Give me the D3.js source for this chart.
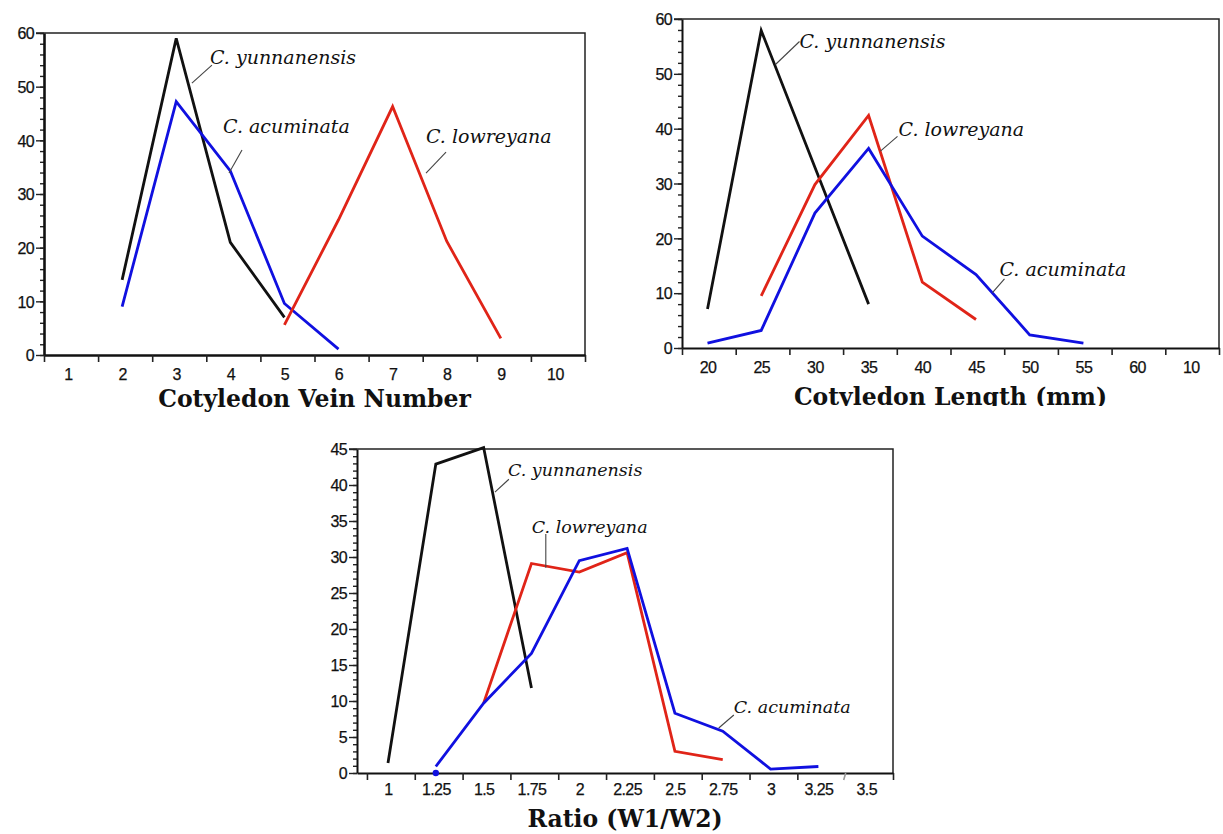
<!DOCTYPE html>
<html>
<head>
<meta charset="utf-8">
<script src="https://cdn.jsdelivr.net/npm/d3@7"></script>
<style>
  body { margin: 0; background: #fff; }
  svg { display: block; }
  .tick text { font-family: "Liberation Sans", Arial, sans-serif; font-size: 16px; letter-spacing: -0.6px; fill: #111; stroke: #111; stroke-width: 0.25px; }
  .title { font-family: "DejaVu Serif", serif; font-weight: bold; font-size: 23.5px; fill: #111; }
  .note { font-family: "DejaVu Serif", serif; font-style: italic; fill: #111; }
</style>
</head>
<body>
<svg id="chart" width="1223" height="834"></svg>
<script>
// ---- data: cotyledon vein number ----
var veinLabels = [1, 2, 3, 4, 5, 6, 7, 8, 9, 10];
var veinYunX = [2, 3, 4, 5];
var veinYunY = [14, 59, 21, 7];
var veinAcuX = [2, 3, 4, 5, 6];
var veinAcuY = [9, 47.2, 34.3, 9.6, 1.1];
var veinLowX = [5, 6, 7, 8, 9];
var veinLowY = [5.6, 25.2, 46.3, 21.2, 3.1];

// ---- data: cotyledon length (mm), categorical ----
var lengthLabels = ["20", "25", "30", "35", "40", "45", "50", "55", "60", "10"];
var lengthYunX = ["20", "25", "35"];
var lengthYunY = [7.1, 57.9, 8.0];
var lengthLowX = ["25", "30", "35", "40", "45"];
var lengthLowY = [9.5, 29.8, 42.4, 12.0, 5.2];
var lengthAcuX = ["20", "25", "30", "35", "40", "45", "50", "55"];
var lengthAcuY = [0.9, 3.2, 24.6, 36.4, 20.4, 13.4, 2.4, 0.9];

// ---- data: ratio W1/W2 ----
var ratioLabels = [1, 1.25, 1.5, 1.75, 2, 2.25, 2.5, 2.75, 3, 3.25, 3.5];
var ratioYunX = [1, 1.25, 1.5, 1.75];
var ratioYunY = [1.4, 42.9, 45.2, 11.8];
var ratioAcuX = [1.25, 1.5, 1.75, 2, 2.25, 2.5, 2.75, 3, 3.25];
var ratioAcuY = [0.9, 9.7, 16.6, 29.5, 31.2, 8.3, 5.8, 0.55, 0.9];
var ratioLowX = [1.5, 1.75, 2, 2.25, 2.5, 2.75];
var ratioLowY = [9.7, 29.1, 27.9, 30.6, 3.0, 1.85];

var BLACK = "#111", BLUE = "#1010e0", RED = "#e02418";

var svg = d3.select("#chart");

// helpers
function zip(xs, ys) { return xs.map(function (x, i) { return [x, ys[i]]; }); }
function range(a, b, step) { return d3.range(a, b + step / 2, step); }

var charts = [
  {
    x: [0.556, 10.556], xr: [44, 585], y: [0, 60], yr: [355, 33],
    xBounds: range(0.556, 10.556, 1), xLabels: veinLabels, xPos: function (d) { return d; },
    yMajor: range(0, 60, 10), yMinor: range(0, 60, 2), axisW: 2.6, labelDy: 22,
    series: [
      { c: BLACK, d: zip(veinYunX, veinYunY) },
      { c: BLUE, d: zip(veinAcuX, veinAcuY) },
      { c: RED, d: zip(veinLowX, veinLowY) }
    ],
    title: "Cotyledon Vein Number", titleY: 407, clip: false, noteSize: 19,
    notes: [
      { t: "C. yunnanensis", at: [3.624, 54.2], line: [[3.29, 50.65], [3.66, 54.0]] },
      { t: "C. acuminata", at: [3.865, 41.3], line: [[3.976, 33.9], [4.216, 38.2]] },
      { t: "C. lowreyana", at: [7.617, 39.5], line: [[7.617, 33.9], [7.987, 37.8]] }
    ]
  },
  {
    x: [-0.475, 9.525], xr: [682, 1219], y: [0, 60], yr: [348, 19],
    xBounds: range(-0.475, 9.525, 1), xLabels: lengthLabels,
    xPos: function (d) { return typeof d === "number" ? d : lengthLabels.indexOf(d); },
    yMajor: range(0, 60, 10), yMinor: range(0, 60, 2), axisW: 2, labelDy: 22,
    series: [
      { c: BLACK, d: zip(lengthYunX, lengthYunY) },
      { c: RED, d: zip(lengthLowX, lengthLowY) },
      { c: BLUE, d: zip(lengthAcuX, lengthAcuY) }
    ],
    title: "Cotyledon Length (mm)", titleY: 405, clip: true, noteSize: 19,
    notes: [
      { t: "C. yunnanensis", at: [1.713, 54.8], line: [[1.266, 51.7], [1.713, 55.9]] },
      { t: "C. lowreyana", at: [3.557, 38.6], line: [[3.22, 35.9], [3.538, 38.6]] },
      { t: "C. acuminata", at: [5.437, 13.2], line: [[5.307, 10.1], [5.53, 12.6]] }
    ]
  },
  {
    x: [0.838, 3.64], xr: [357, 893], y: [0, 45], yr: [773, 449],
    xBounds: range(0.89, 3.64, 0.25), xLabels: ratioLabels, xPos: function (d) { return d; },
    yMajor: range(0, 45, 5), yMinor: range(0, 45, 1), axisW: 2, labelDy: 19,
    series: [
      { c: BLACK, d: zip(ratioYunX, ratioYunY) },
      { c: RED, d: zip(ratioLowX, ratioLowY) },
      { c: BLUE, d: zip(ratioAcuX, ratioAcuY) }
    ],
    dot: { c: BLUE, at: [1.25, 0] },
    title: "Ratio (W1/W2)", titleY: 827, clip: false, noteSize: 17.5,
    notes: [
      { t: "C. yunnanensis", at: [1.627, 41.25], line: [[1.559, 39.0], [1.632, 40.8]] },
      { t: "C. lowreyana", at: [1.752, 33.3], line: [[1.825, 33.2], [1.825, 28.5]] },
      { t: "C. acuminata", at: [2.808, 8.33], line: [[2.729, 6.25], [2.808, 8.06]] }
    ]
  }
];

charts.forEach(function (cfg, ci) {
  var x = d3.scaleLinear().domain(cfg.x).range(cfg.xr);
  var y = d3.scaleLinear().domain(cfg.y).range(cfg.yr);
  var g = svg.append("g");
  var x0 = cfg.xr[0], x1 = cfg.xr[1], y0 = cfg.yr[0], y1 = cfg.yr[1];

  // top and right frame
  g.append("path")
    .attr("d", "M" + (x0 - 8) + "," + y1 + "H" + x1 + "V" + y0)
    .attr("fill", "none").attr("stroke", "#222").attr("stroke-width", 1.5);

  // y axis: minor then major ticks
  var yMinor = g.append("g").attr("transform", "translate(" + x0 + ",0)")
    .call(d3.axisLeft(y).tickValues(cfg.yMinor).tickSize(4).tickFormat(""));
  yMinor.select(".domain").remove();
  var yAxis = g.append("g").attr("transform", "translate(" + x0 + ",0)")
    .call(d3.axisLeft(y).tickValues(cfg.yMajor).tickSize(8).tickSizeOuter(0).tickPadding(2));
  yAxis.selectAll(".tick text").attr("dy", "0.36em");
  g.selectAll(".tick line").attr("stroke", "#222").attr("stroke-width", 1.4);
  yAxis.select(".domain").attr("stroke", "#111").attr("stroke-width", cfg.axisW);

  // x axis: boundary ticks, labels in between
  var xAxis = g.append("g").attr("transform", "translate(0," + y0 + ")")
    .call(d3.axisBottom(x).tickValues(cfg.xBounds).tickSize(7).tickSizeOuter(0).tickFormat(""));
  xAxis.select(".domain").attr("stroke", "#111").attr("stroke-width", cfg.axisW);
  xAxis.selectAll(".tick line").attr("stroke", "#222").attr("stroke-width", 1.6);
  if (ci === 2) {
    // the faint slanted tick near 3.5
    xAxis.selectAll(".tick").filter(function (d, i) { return i === 10; }).select("line")
      .attr("stroke", "#999").attr("x2", -2).attr("y2", 7);
  }
  var xLab = g.append("g").attr("transform", "translate(0," + y0 + ")")
    .call(d3.axisBottom(d3.scaleLinear().domain(cfg.x).range(cfg.xr))
      .tickValues(cfg.xLabels.map(function (d, i) { return typeof d === "number" ? d : i; }))
      .tickSize(0).tickPadding(cfg.labelDy - 8)
      .tickFormat(function (d, i) { return String(cfg.xLabels[i]); }));
  xLab.select(".domain").remove();

  // series
  var line = d3.line()
    .x(function (d) { return x(cfg.xPos(d[0])); })
    .y(function (d) { return y(d[1]); });
  cfg.series.forEach(function (s) {
    g.append("path").datum(s.d).attr("d", line)
      .attr("fill", "none").attr("stroke", s.c).attr("stroke-width", 2.8)
      .attr("stroke-linejoin", "miter");
  });
  if (cfg.dot) {
    g.append("circle").attr("cx", x(cfg.dot.at[0])).attr("cy", y(cfg.dot.at[1]))
      .attr("r", 3.2).attr("fill", cfg.dot.c);
  }

  // annotations
  cfg.notes.forEach(function (n) {
    g.append("line")
      .attr("x1", x(n.line[0][0])).attr("y1", y(n.line[0][1]))
      .attr("x2", x(n.line[1][0])).attr("y2", y(n.line[1][1]))
      .attr("stroke", "#444").attr("stroke-width", 1.1);
    g.append("text").attr("class", "note")
      .attr("x", x(n.at[0])).attr("y", y(n.at[1]))
      .style("font-size", cfg.noteSize + "px").text(n.t);
  });

  // axis title
  var cx = (x0 + x1) / 2;
  var t = g.append("text").attr("class", "title")
    .attr("x", cx).attr("y", cfg.titleY).attr("text-anchor", "middle").text(cfg.title);
  if (cfg.clip) {
    svg.append("clipPath").attr("id", "clip" + ci)
      .append("rect").attr("x", x0).attr("y", cfg.titleY - 30).attr("width", x1 - x0).attr("height", 31);
    t.attr("clip-path", "url(#clip" + ci + ")");
  }
});
</script>
</body>
</html>
